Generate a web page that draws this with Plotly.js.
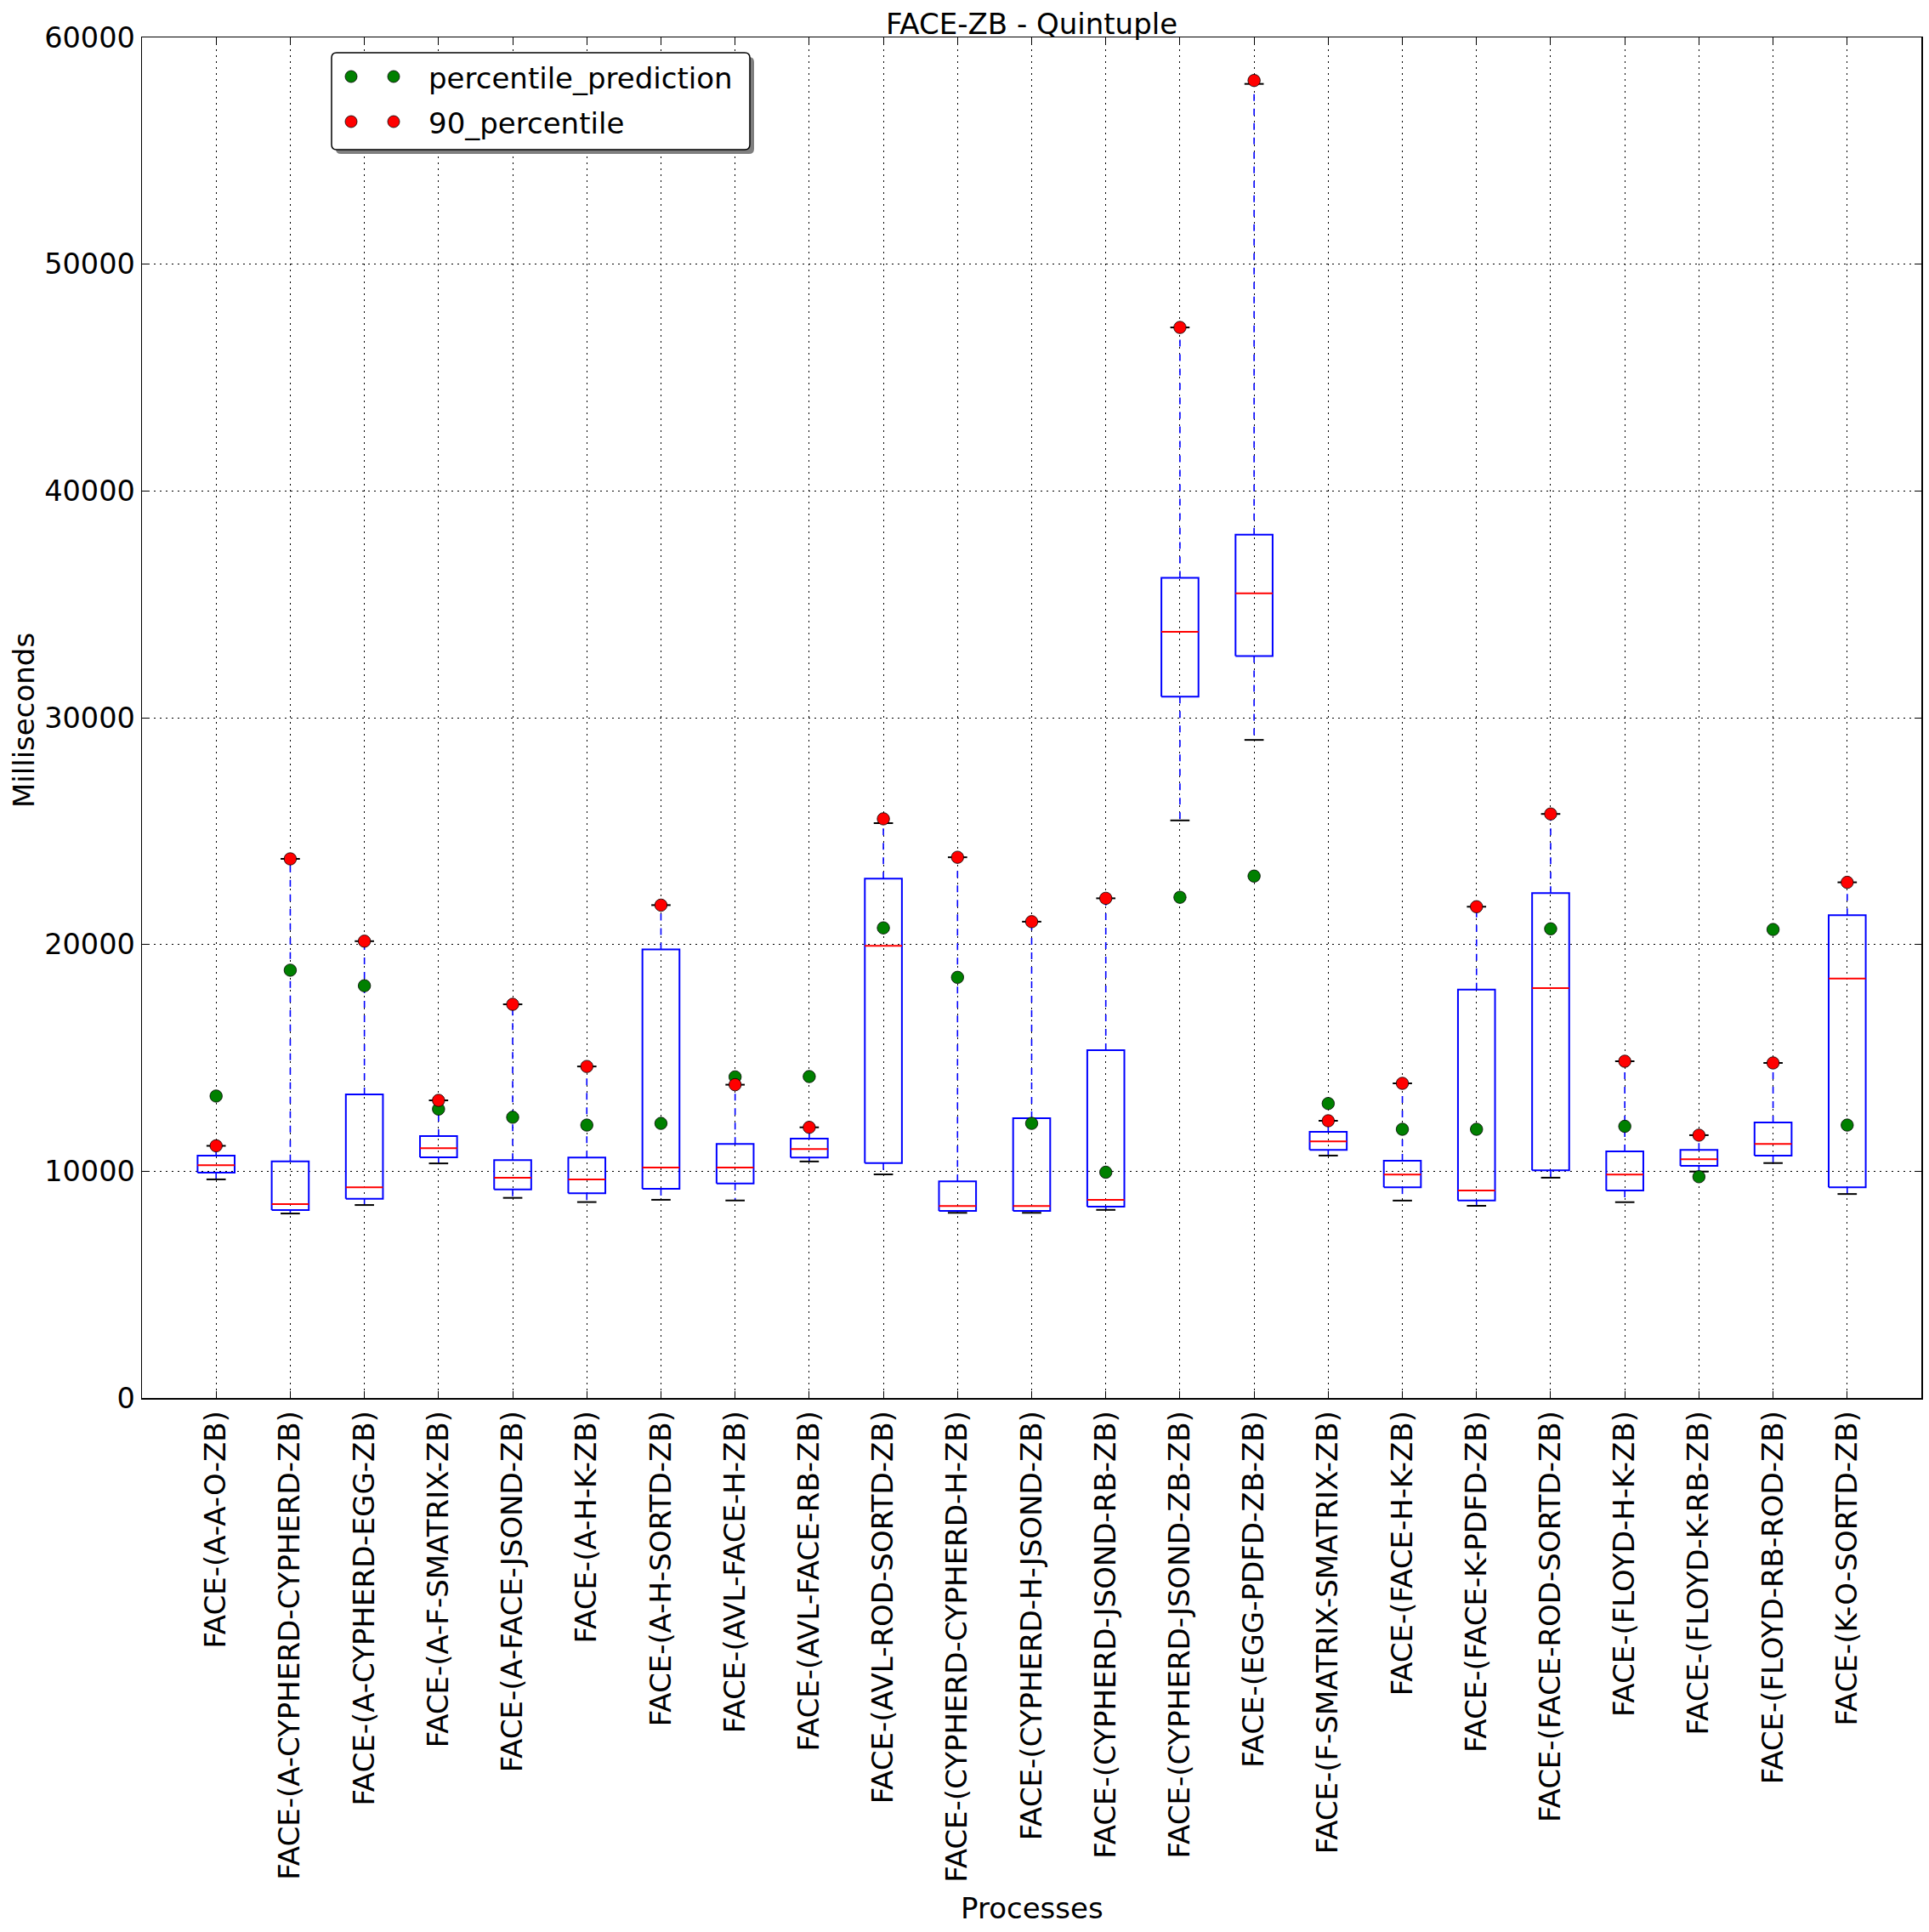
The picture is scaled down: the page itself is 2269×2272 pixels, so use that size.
<!DOCTYPE html>
<html>
<head>
<meta charset="utf-8">
<script src="https://cdn.plot.ly/plotly-3.0.1.min.js"></script>
<style>html,body{margin:0;padding:0;background:#fff;}#chart{width:2269px;height:2272px;}</style>
</head>
<body>
<div id="chart"></div>
<script>
// ---- data ----
const categories = [
  'FACE-(A-A-O-ZB)',
  'FACE-(A-CYPHERD-CYPHERD-ZB)',
  'FACE-(A-CYPHERD-EGG-ZB)',
  'FACE-(A-F-SMATRIX-ZB)',
  'FACE-(A-FACE-JSOND-ZB)',
  'FACE-(A-H-K-ZB)',
  'FACE-(A-H-SORTD-ZB)',
  'FACE-(AVL-FACE-H-ZB)',
  'FACE-(AVL-FACE-RB-ZB)',
  'FACE-(AVL-ROD-SORTD-ZB)',
  'FACE-(CYPHERD-CYPHERD-H-ZB)',
  'FACE-(CYPHERD-H-JSOND-ZB)',
  'FACE-(CYPHERD-JSOND-RB-ZB)',
  'FACE-(CYPHERD-JSOND-ZB-ZB)',
  'FACE-(EGG-PDFD-ZB-ZB)',
  'FACE-(F-SMATRIX-SMATRIX-ZB)',
  'FACE-(FACE-H-K-ZB)',
  'FACE-(FACE-K-PDFD-ZB)',
  'FACE-(FACE-ROD-SORTD-ZB)',
  'FACE-(FLOYD-H-K-ZB)',
  'FACE-(FLOYD-K-RB-ZB)',
  'FACE-(FLOYD-RB-ROD-ZB)',
  'FACE-(K-O-SORTD-ZB)'
];
const whiskerLow  = [9640, 8135, 8510, 10345, 8825, 8640, 8740, 8710, 10430, 9860, 8165, 8165, 8295, 25470, 29020, 10690, 8705, 8475, 9715, 8635, 9985, 10360, 8995];
const q1          = [9940, 8290, 8780, 10615, 9195, 9025, 9225, 9455, 10605, 10360, 8250, 8250, 8435, 30930, 32720, 10945, 9295, 8705, 10040, 9150, 10240, 10690, 9295];
const medians     = [10270, 8550, 9295, 11020, 9715, 9640, 10160, 10160, 10975, 19945, 8465, 8465, 8735, 33785, 35480, 11320, 9855, 9150, 18075, 9855, 10530, 11205, 18495];
const q3          = [10690, 10430, 13385, 11550, 10490, 10605, 19785, 11205, 11435, 22900, 9555, 12340, 15335, 36165, 38070, 11735, 10460, 18005, 22265, 10875, 10945, 12150, 21290];
const whiskerHigh = [11120, 23775, 20145, 13125, 17360, 14620, 21735, 13815, 11935, 25350, 23845, 21005, 22035, 47210, 57950, 12225, 13875, 21665, 25755, 14850, 11590, 14775, 22740];
const percentilePrediction = [13315, 18865, 18180, 12740, 12380, 12035, 12110, 14160, 14175, 20730, 18550, 12110, 9955, 22080, 23015, 12985, 11850, 11850, 20690, 11980, 9755, 20660, 12035];
const percentile90 = [11120, 23775, 20145, 13125, 17360, 14620, 21735, 13815, 11935, 25540, 23845, 21005, 22035, 47210, 58100, 12225, 13875, 21665, 25755, 14850, 11590, 14775, 22740];
const yTicks = [0, 10000, 20000, 30000, 40000, 50000, 60000];

// ---- build box-plot geometry from the data ----
const pos = categories.map((c, i) => i + 1);
const HALF = 0.25, CAP = 0.13;
const boxX = [], boxY = [], medX = [], medY = [], whX = [], whY = [], capX = [], capY = [];
pos.forEach((p, i) => {
  boxX.push(p - HALF, p + HALF, p + HALF, p - HALF, p - HALF, null);
  boxY.push(q1[i], q1[i], q3[i], q3[i], q1[i], null);
  medX.push(p - HALF, p + HALF, null);
  medY.push(medians[i], medians[i], null);
  whX.push(p, p, null, p, p, null);
  whY.push(q3[i], whiskerHigh[i], null, q1[i], whiskerLow[i], null);
  capX.push(p - CAP, p + CAP, null, p - CAP, p + CAP, null);
  capY.push(whiskerHigh[i], whiskerHigh[i], null, whiskerLow[i], whiskerLow[i], null);
});

const traces = [
  {x: whX, y: whY, mode: 'lines', line: {color: '#0000ff', width: 1.6, dash: '8px,9px'}, hoverinfo: 'skip', showlegend: false},
  {x: boxX, y: boxY, mode: 'lines', line: {color: '#0000ff', width: 2}, hoverinfo: 'skip', showlegend: false},
  {x: capX, y: capY, mode: 'lines', line: {color: '#000000', width: 2}, hoverinfo: 'skip', showlegend: false},
  {x: medX, y: medY, mode: 'lines', line: {color: '#ff0000', width: 2}, hoverinfo: 'skip', showlegend: false},
  {x: pos, y: percentilePrediction, mode: 'markers', name: 'percentile_prediction',
   marker: {color: '#008000', size: 14.5, line: {color: '#000', width: 0.8}}, showlegend: false},
  {x: pos, y: percentile90, mode: 'markers', name: '90_percentile',
   marker: {color: '#ff0000', size: 14.5, line: {color: '#000', width: 0.8}}, showlegend: false}
];

// ---- layout helpers (pixel -> paper) for the hand-drawn legend ----
const L = 167, R = 2260, T = 44, B = 1644;
const px = v => (v - L) / (R - L);
const py = v => (B - v) / (B - T);
function rrect(x0, y0, x1, y1, r) {
  const P = (a, b) => px(a) + ',' + py(b);
  return 'M' + P(x0 + r, y0) + ' L' + P(x1 - r, y0) + ' Q' + P(x1, y0) + ' ' + P(x1, y0 + r) +
    ' L' + P(x1, y1 - r) + ' Q' + P(x1, y1) + ' ' + P(x1 - r, y1) +
    ' L' + P(x0 + r, y1) + ' Q' + P(x0, y1) + ' ' + P(x0, y1 - r) +
    ' L' + P(x0, y0 + r) + ' Q' + P(x0, y0) + ' ' + P(x0 + r, y0) + ' Z';
}
const legendItems = [
  {label: 'percentile_prediction', color: '#008000', row: 90},
  {label: '90_percentile', color: '#ff0000', row: 143}
];
const shapes = [
  {type: 'path', xref: 'paper', yref: 'paper', layer: 'above', path: rrect(395, 67, 887, 181, 6), fillcolor: '#7f7f7f', line: {width: 0}},
  {type: 'path', xref: 'paper', yref: 'paper', layer: 'above', path: rrect(390, 62, 882, 176, 6), fillcolor: '#ffffff', line: {color: '#000', width: 1.5}}
];
const annotations = [];
legendItems.forEach(it => {
  [413, 463].forEach(cx => shapes.push({
    type: 'circle', xref: 'paper', yref: 'paper', layer: 'above',
    xsizemode: 'pixel', ysizemode: 'pixel', xanchor: px(cx), yanchor: py(it.row),
    x0: -7, x1: 7, y0: -7, y1: 7, fillcolor: it.color, line: {color: '#000', width: 0.8}
  }));
  annotations.push({xref: 'paper', yref: 'paper', x: px(502), y: py(it.row + 2), xanchor: 'left', yanchor: 'middle',
    text: it.label, showarrow: false, font: {family: 'DejaVu Sans', size: 34, color: '#000'}});
});
annotations.push({xref: 'paper', yref: 'paper', x: 0.5, y: py(2244), xanchor: 'center', yanchor: 'middle',
  text: 'Processes', showarrow: false, font: {family: 'DejaVu Sans', size: 34, color: '#000'}});
annotations.push({xref: 'paper', yref: 'paper', x: px(28), y: py(847), xanchor: 'center', yanchor: 'middle', textangle: -90,
  text: 'Milliseconds', showarrow: false, font: {family: 'DejaVu Sans', size: 34, color: '#000'}});

const layout = {
  width: 2269, height: 2272,
  margin: {l: L, r: 2269 - R, t: T, b: 2272 - B},
  paper_bgcolor: '#fff', plot_bgcolor: '#fff',
  font: {family: 'DejaVu Sans', size: 34, color: '#000'},
  title: {text: 'FACE-ZB - Quintuple', x: 0.5, xref: 'paper', y: 1 - 40 / 2272, yref: 'container', yanchor: 'bottom',
    font: {family: 'DejaVu Sans', size: 34, color: '#000'}},
  xaxis: {
    range: [0, categories.length + 1], tickmode: 'array', tickvals: pos, ticktext: categories,
    tickangle: -90, showgrid: true, gridcolor: '#000', gridwidth: 1, griddash: '2px,5px',
    showline: true, linecolor: '#000', linewidth: 1.5, mirror: 'ticks', ticks: 'inside', ticklen: 8, tickcolor: '#000',
    zeroline: false, tickfont: {family: 'DejaVu Sans', size: 34}
  },
  yaxis: {
    range: [0, 60000], tickmode: 'array', tickvals: yTicks, ticktext: yTicks.map(String),
    showgrid: true, gridcolor: '#000', gridwidth: 1, griddash: '2px,5px',
    showline: true, linecolor: '#000', linewidth: 1.5, mirror: 'ticks', ticks: 'inside', ticklen: 8, tickcolor: '#000',
    zeroline: false, tickfont: {family: 'DejaVu Sans', size: 33.5}
  },
  shapes: shapes,
  annotations: annotations,
  showlegend: false
};
Plotly.newPlot('chart', traces, layout, {staticPlot: true});
</script>
</body>
</html>
